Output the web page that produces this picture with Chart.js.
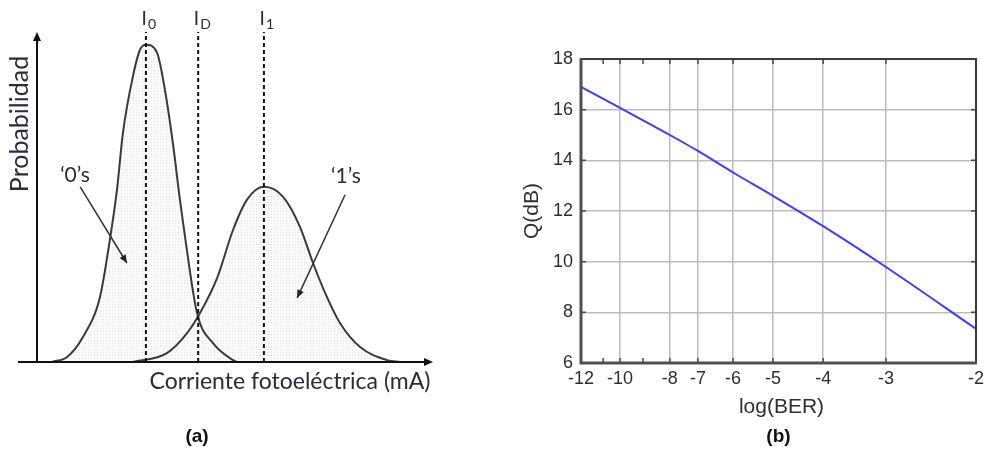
<!DOCTYPE html>
<html>
<head>
<meta charset="utf-8">
<script src="https://cdn.jsdelivr.net/npm/chart.js@4.4.1/dist/chart.umd.min.js"></script>
<style>
  html, body { margin: 0; padding: 0; background: #fff; width: 984px; height: 450px; overflow: hidden; }
  #chartA { position: absolute; left: 0; top: 0; }
  #chartB { position: absolute; left: 490px; top: 0; }
</style>
</head>
<body>
<canvas id="chartA" width="490" height="450"></canvas>
<canvas id="chartB" width="510" height="450"></canvas>
<script>
// (a) photocurrent distributions for '0's and '1's
const current0 = [3.8, 7.6, 11.6, 15.9, 18.4, 20.2, 21.7, 24.2, 26.0, 27.5, 30.3, 32.3, 34.3, 36.1, 36.9, 40.4, 44.4, 49.5, 50.5];
const prob0 = [0, 0.016, 0.079, 0.205, 0.385, 0.543, 0.722, 0.899, 0.984, 1, 0.975, 0.858, 0.691, 0.511, 0.438, 0.155, 0.06, 0.006, 0];
const current1 = [24.2, 32.8, 37.9, 41.2, 45.5, 49.5, 53.0, 57.3, 62.1, 66.4, 69.7, 73.2, 76.5, 81.6, 88.4, 91.7];
const prob1 = [0, 0.028, 0.091, 0.155, 0.265, 0.416, 0.511, 0.552, 0.521, 0.426, 0.312, 0.205, 0.123, 0.047, 0.006, 0];
const levelNames = ['0', 'D', '1'];
const levelCurrent = [27.5, 40.7, 57.3];

// (b) Q factor against BER
const berTicks = [-12, -11, -10, -9, -8, -7, -6, -5, -4, -3, -2];
const berTickLabels = ['-12', '', '-10', '', '-8', '-7', '-6', '-5', '-4', '-3', '-2'];
const berAxisPos = [0, 5.6, 9.9, 15.7, 22.5, 29.6, 38.5, 48.6, 61.3, 77.2, 100]; // non-uniform axis, % of width
const logBer = [-12, -10, -8, -7, -6, -5, -4, -3, -2];
const qdB = [16.9, 16.07, 15.0, 14.37, 13.52, 12.6, 11.4, 9.79, 7.35];

const textColor = '#2c2a3c';

// dotted light-gray fill like the original
function dotPattern() {
  const c = document.createElement('canvas');
  c.width = 3; c.height = 3;
  const g = c.getContext('2d');
  g.fillStyle = '#fafafa';
  g.fillRect(0, 0, 3, 3);
  g.fillStyle = '#e4e4e4';
  g.fillRect(1, 1, 1, 1);
  return g.createPattern(c, 'repeat');
}

function arrowHead(ctx, x1, y1, x2, y2, len, half) {
  const a = Math.atan2(y2 - y1, x2 - x1);
  ctx.beginPath();
  ctx.moveTo(x2, y2);
  ctx.lineTo(x2 - len * Math.cos(a) + half * Math.sin(a), y2 - len * Math.sin(a) - half * Math.cos(a));
  ctx.lineTo(x2 - len * Math.cos(a) - half * Math.sin(a), y2 - len * Math.sin(a) + half * Math.cos(a));
  ctx.closePath();
  ctx.fill();
}

const diagramDecor = {
  id: 'diagramDecor',
  afterDatasetsDraw(chart) {
    const { ctx, chartArea: area, scales: { x, y } } = chart;
    ctx.save();
    ctx.strokeStyle = '#111';
    ctx.fillStyle = '#111';
    ctx.lineWidth = 2;
    // axes with arrows
    ctx.beginPath();
    ctx.moveTo(18, area.bottom);
    ctx.lineTo(area.right - 6, area.bottom);
    ctx.moveTo(area.left, area.bottom);
    ctx.lineTo(area.left, area.top + 6);
    ctx.stroke();
    arrowHead(ctx, 0, area.bottom, area.right, area.bottom, 9, 4);
    arrowHead(ctx, area.left, area.bottom, area.left, area.top, 9, 4);

    // pointer arrows to the curves
    const pointers = [
      { from: [10.9, 0.552], to: [22.7, 0.312] },
      { from: [77.8, 0.527], to: [65.7, 0.202] }
    ];
    ctx.strokeStyle = '#333';
    ctx.fillStyle = '#222';
    ctx.lineWidth = 1.5;
    pointers.forEach(p => {
      const x1 = x.getPixelForValue(p.from[0]), y1 = y.getPixelForValue(p.from[1]);
      const x2 = x.getPixelForValue(p.to[0]), y2 = y.getPixelForValue(p.to[1]);
      ctx.beginPath();
      ctx.moveTo(x1, y1);
      ctx.lineTo(x2, y2);
      ctx.stroke();
      arrowHead(ctx, x1, y1, x2, y2, 8, 3.5);
    });

    ctx.fillStyle = textColor;
    ctx.textAlign = 'center';
    ctx.textBaseline = 'middle';
    ctx.font = '21px Lato';
    ctx.fillText('\u20180\u2019s', x.getPixelForValue(9.6), y.getPixelForValue(0.59));
    ctx.fillText('\u20181\u2019s', x.getPixelForValue(78.0), y.getPixelForValue(0.584));

    // level labels I0, ID, I1
    levelNames.forEach((n, i) => {
      const px = x.getPixelForValue(levelCurrent[i]);
      ctx.font = '19px Lato';
      ctx.textAlign = 'right';
      ctx.fillText('I', px + 1, 19);
      ctx.font = '14px Lato';
      ctx.textAlign = 'left';
      ctx.fillText(n, px + 2, 24);
    });

    ctx.textAlign = 'center';
    ctx.font = '23px Lato';
    ctx.fillText('Corriente fotoeléctrica (mA)', 290, 382);
    ctx.save();
    ctx.translate(20, 124);
    ctx.rotate(-Math.PI / 2);
    ctx.font = '25px Lato';
    ctx.fillText('Probabilidad', 0, 0);
    ctx.restore();

    ctx.fillStyle = '#111';
    ctx.font = 'bold 19px "Liberation Sans", Arial';
    ctx.fillText('(a)', 197, 437);
    ctx.restore();
  }
};

const fill = dotPattern();
const outline = { borderColor: '#3a3a3a', borderWidth: 2, pointRadius: 0, cubicInterpolationMode: 'monotone', fill: false, clip: false };
const shaded = { borderWidth: 0, backgroundColor: fill, fill: 'origin', pointRadius: 0, cubicInterpolationMode: 'monotone' };
const pts0 = current0.map((v, i) => ({ x: v, y: prob0[i] }));
const pts1 = current1.map((v, i) => ({ x: v, y: prob1[i] }));

// first dataset is drawn last, so outlines and dashed levels go before the fills
new Chart(document.getElementById('chartA'), {
  type: 'line',
  data: {
    datasets: [
      ...levelCurrent.map(v => ({
        data: [{ x: v, y: 0 }, { x: v, y: 1.04 }],
        borderColor: '#111', borderWidth: 2, borderDash: [4, 3], pointRadius: 0, fill: false, clip: false
      })),
      { data: pts0, ...outline },
      { data: pts1, ...outline },
      { data: pts0, ...shaded },
      { data: pts1, ...shaded }
    ]
  },
  options: {
    responsive: false,
    animation: false,
    layout: { padding: { left: 37, right: 57, top: 32, bottom: 88 } },
    plugins: { legend: { display: false }, tooltip: { enabled: false } },
    scales: {
      x: { type: 'linear', min: 0, max: 100, display: false },
      y: { min: 0, max: 1.04, display: false }
    }
  },
  plugins: [diagramDecor]
});

const tickFont = { family: '"Liberation Sans", Arial', size: 18 };
const gridGray = '#bdbdbd';

const frameDecor = {
  id: 'frameDecor',
  afterDraw(chart) {
    const { ctx, chartArea: a, scales: { x, y } } = chart;
    ctx.save();
    ctx.strokeStyle = '#4a4a4a';
    ctx.lineWidth = 1.5;
    // inward tick marks
    ctx.beginPath();
    berAxisPos.forEach(v => {
      const px = x.getPixelForValue(v);
      ctx.moveTo(px, a.bottom); ctx.lineTo(px, a.bottom - 5);
      ctx.moveTo(px, a.top); ctx.lineTo(px, a.top + 5);
    });
    y.ticks.forEach(t => {
      const py = y.getPixelForValue(t.value);
      ctx.moveTo(a.left, py); ctx.lineTo(a.left + 5, py);
      ctx.moveTo(a.right, py); ctx.lineTo(a.right - 5, py);
    });
    ctx.stroke();
    // box
    ctx.lineWidth = 2;
    ctx.strokeStyle = '#3c3c3c';
    ctx.beginPath();
    ctx.moveTo(a.left, a.top); ctx.lineTo(a.right, a.top); ctx.lineTo(a.right, a.bottom);
    ctx.stroke();
    ctx.lineWidth = 3;
    ctx.strokeStyle = '#505050';
    ctx.beginPath();
    ctx.moveTo(a.left, a.top - 1); ctx.lineTo(a.left, a.bottom); ctx.lineTo(a.right + 1, a.bottom);
    ctx.stroke();

    ctx.fillStyle = '#2e2e36';
    ctx.textAlign = 'center';
    ctx.textBaseline = 'middle';
    ctx.font = '21px "Liberation Sans", Arial';
    ctx.fillText('log(BER)', (a.left + a.right) / 2 + 3, 407);
    ctx.save();
    ctx.translate(42, (a.top + a.bottom) / 2);
    ctx.rotate(-Math.PI / 2);
    ctx.fillText('Q(dB)', 0, 0);
    ctx.restore();
    ctx.fillStyle = '#111';
    ctx.font = 'bold 19px "Liberation Sans", Arial';
    ctx.fillText('(b)', (a.left + a.right) / 2, 437);
    ctx.restore();
  }
};

new Chart(document.getElementById('chartB'), {
  type: 'line',
  data: {
    datasets: [{
      data: logBer.map((b, i) => ({ x: berAxisPos[berTicks.indexOf(b)], y: qdB[i] })),
      borderColor: '#3d3dff', borderWidth: 2, pointRadius: 0,
      cubicInterpolationMode: 'monotone', fill: false
    }]
  },
  options: {
    responsive: false,
    animation: false,
    layout: { padding: { left: 0, right: 24, top: 59, bottom: 0 } },
    plugins: { legend: { display: false }, tooltip: { enabled: false } },
    scales: {
      x: {
        type: 'linear', min: 0, max: 100,
        afterBuildTicks: s => { s.ticks = berAxisPos.map(v => ({ value: v })); },
        afterFit: s => { s.height = 87; },
        border: { display: false },
        grid: {
          drawTicks: false, lineWidth: 1.5,
          color: c => (berTickLabels[c.index] && c.index > 0 && c.index < berAxisPos.length - 1) ? gridGray : 'transparent'
        },
        ticks: {
          padding: 5, autoSkip: false, maxRotation: 0, color: '#2e2e36', font: tickFont,
          callback: (v, i) => berTickLabels[i]
        }
      },
      y: {
        min: 6, max: 18,
        afterFit: s => { s.width = 91; },
        border: { display: false },
        grid: {
          drawTicks: false, lineWidth: 1.5,
          color: c => (c.tick.value > 6 && c.tick.value < 18) ? gridGray : 'transparent'
        },
        ticks: { stepSize: 2, padding: 8, color: '#2e2e36', font: tickFont }
      }
    }
  },
  plugins: [frameDecor]
});
</script>
</body>
</html>
